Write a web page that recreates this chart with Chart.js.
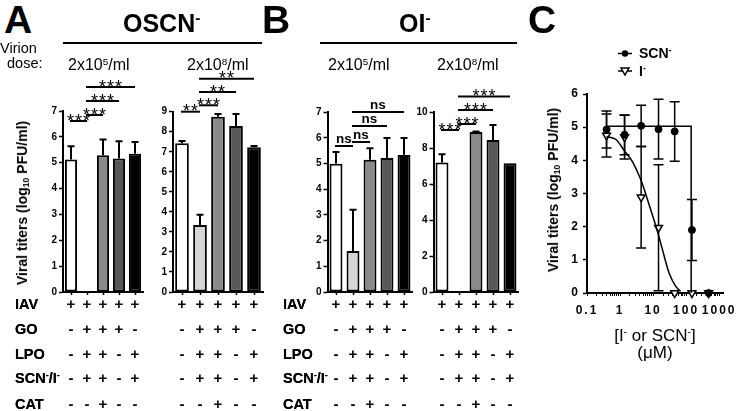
<!DOCTYPE html>
<html>
<head>
<meta charset="utf-8">
<script src="https://cdn.jsdelivr.net/npm/chart.js@4.4.1/dist/chart.umd.min.js"></script>
<style>
  body { margin: 0; background: #fff; font-family: "Liberation Sans", Arial, sans-serif; color: #000; }
  #fig { position: relative; width: 740px; height: 411px; overflow: hidden; }
  #fig canvas { position: absolute; }
  .t { position: absolute; white-space: nowrap; line-height: 1; }
  .rule { position: absolute; height: 2px; background: #000; }
  sup { font-size: 62%; vertical-align: baseline; position: relative; top: -0.55em; }
  sub { font-size: 62%; vertical-align: baseline; position: relative; top: 0.25em; }
</style>
</head>
<body>
<div id="fig"></div>
<script>
// ---- data ----
const conditions = ['IAV', 'IAV+GO+LPO+SCN/I', 'IAV+GO+LPO+SCN/I+CAT', 'IAV+GO', 'IAV+LPO+SCN/I'];
const rowLabels = ['IAV', 'GO', 'LPO', 'SCN<sup>-</sup>/I<sup>-</sup>', 'CAT'];
const treatRows = [
  ['+', '+', '+', '+', '+'],
  ['-', '+', '+', '+', '-'],
  ['-', '+', '+', '-', '+'],
  ['-', '+', '+', '-', '+'],
  ['-', '-', '+', '-', '-']
];

// A: OSCN-
const oscnLowMean = [5.12, null, 5.29, 5.16, 5.35];
const oscnLowErr = [0.52, 0, 0.61, 0.67, 0.45];
const oscnHighMean = [7.42, 3.35, 8.75, 8.29, 7.22];
const oscnHighErr = [0.12, 0.5, 0.13, 0.59, 0.07];
const oscnLowSig = [[0, 1, '***'], [1, 2, '***'], [1, 3, '***'], [1, 4, '***']];
const oscnHighSig = [[0, 1, '**'], [1, 2, '***'], [1, 3, '**'], [1, 4, '**']];

// B: OI-
const oiLowMean = [5.0, 1.6, 5.15, 5.22, 5.34];
const oiLowErr = [0.45, 1.6, 0.45, 0.78, 0.66];
const oiHighMean = [7.2, null, 8.9, 8.46, 7.17];
const oiHighErr = [0.47, 0, 0.03, 0.84, 0];
const oiLowSig = [[0, 1, 'ns'], [1, 2, 'ns'], [1, 3, 'ns'], [1, 4, 'ns']];
const oiHighSig = [[0, 1, '***'], [1, 2, '***'], [1, 3, '***'], [1, 4, '***']];

// C: dose response (uM)
const conc = [0.39, 1.37, 4.35, 14.6, 45, 150, 480];
const scnMean = [4.93, 4.77, 5.04, 4.94, 4.87, 1.9, 0];
const scnErr = [0.56, 0.6, 0.62, 0.9, 0.9, 0.92, 0];
const iMean = [4.75, 4.7, 2.89, 1.97, 0, 0, 0];
const iErr = [0.65, 0.66, 1.53, 1.9, 0, 0, 0];
const scnFitX = [0.39, 142, 142];
const scnFitY = [5.03, 5.03, 0];
const iFitX = [0.39, 0.77, 1.37, 2.44, 4.35, 7.7, 13.7, 19.3, 30.5, 48.5, 68];
const iFitY = [4.72, 4.62, 4.28, 3.94, 3.39, 2.64, 1.84, 1.3, 0.6, 0.2, 0.05];
const cMajor = [0.1, 1, 10, 100, 1000];
const cMajorLabels = ['0.1', '1', '10', '100', '1000'];

// ---- helpers ----
const FONT = '"Liberation Sans", Arial, sans-serif';
Chart.defaults.font.family = FONT;
Chart.defaults.color = '#000';
const barFill = ['#ffffff', '#d6d6d6', '#8a8a8a', '#575757', '#000000'];
const rowBase = [309, 334, 359, 383, 409];
const fig = document.getElementById('fig');

function txt(html, x, base, size, bold, align, spacing) {
  const d = document.createElement('div');
  d.className = 't';
  d.innerHTML = html;
  d.style.fontSize = size + 'px';
  d.style.fontWeight = bold ? 'bold' : 'normal';
  d.style.left = x + 'px';
  d.style.top = (base - 0.8465 * size) + 'px';
  if (spacing) d.style.letterSpacing = spacing + 'px';
  if (align === 'center') d.style.transform = 'translateX(-50%)';
  fig.appendChild(d);
}

function vtxt(html, cx, cy, size) {
  const d = document.createElement('div');
  d.className = 't';
  d.innerHTML = html;
  d.style.fontSize = size + 'px';
  d.style.fontWeight = 'bold';
  d.style.left = cx + 'px';
  d.style.top = cy + 'px';
  d.style.transform = 'translate(-50%,-50%) rotate(-90deg)';
  fig.appendChild(d);
}

function rule(x, y, w) {
  const d = document.createElement('div');
  d.className = 'rule';
  d.style.left = x + 'px';
  d.style.top = y + 'px';
  d.style.width = w + 'px';
  fig.appendChild(d);
}

function makeCanvas(box) {
  const c = document.createElement('canvas');
  c.width = box.w; c.height = box.h;
  c.style.left = box.l + 'px'; c.style.top = box.t + 'px';
  c.style.width = box.w + 'px'; c.style.height = box.h + 'px';
  fig.appendChild(c);
  return c;
}

// error bars (up only for bars, both ways for points)
const errPlugin = {
  id: 'errbars',
  beforeDatasetsDraw(chart) {
    const ctx = chart.ctx, ys = chart.scales.y;
    chart.data.datasets.forEach((ds, di) => {
      if (!ds.errs) return;
      const meta = chart.getDatasetMeta(di);
      meta.data.forEach((el, i) => {
        const e = ds.errs[i];
        const raw = ds.data[i];
        const v = raw && typeof raw === 'object' ? raw.y : raw;
        if (!e || v == null) return;
        const cap = ds.cap || 3.5;
        const yHi = ys.getPixelForValue(v + e);
        const yLo = ds.errBoth ? ys.getPixelForValue(Math.max(0, v - e)) : el.y;
        ctx.save();
        ctx.strokeStyle = '#000';
        ctx.lineWidth = ds.errWidth || 2;
        ctx.beginPath();
        ctx.moveTo(el.x, yLo); ctx.lineTo(el.x, yHi);
        ctx.moveTo(el.x - cap, yHi); ctx.lineTo(el.x + cap, yHi);
        if (ds.errBoth && v - e > 0) { ctx.moveTo(el.x - cap, yLo); ctx.lineTo(el.x + cap, yLo); }
        ctx.stroke();
        ctx.restore();
      });
    });
  }
};

// significance bracket lines
const sigPlugin = {
  id: 'sig',
  afterDraw(chart, args, o) {
    if (!o.pairs) return;
    const ctx = chart.ctx, xs = chart.scales.x;
    ctx.save();
    ctx.strokeStyle = '#000';
    ctx.lineWidth = 2;
    o.pairs.forEach((p, k) => {
      ctx.beginPath();
      ctx.moveTo(xs.getPixelForValue(p[0]) - 1, o.ys[k]);
      ctx.lineTo(xs.getPixelForValue(p[1]), o.ys[k]);
      ctx.stroke();
    });
    ctx.restore();
  }
};

function barChart(box, plot, means, errs, yMax, step, sig, sigY, rowX) {
  const cv = makeCanvas(box);
  const chart = new Chart(cv, {
    type: 'bar',
    data: {
      labels: conditions,
      datasets: [{
        data: means, errs: errs,
        backgroundColor: barFill, borderColor: '#000', borderWidth: 2, borderSkipped: false,
        barPercentage: 0.76, categoryPercentage: 1
      }]
    },
    options: {
      responsive: false, animation: false,
      layout: { padding: { top: plot.t - box.t, right: box.l + box.w - plot.r, left: 0, bottom: 0 } },
      plugins: {
        legend: { display: false }, tooltip: { enabled: false },
        sig: { pairs: sig, ys: sigY.map(y => y - box.t) }
      },
      scales: {
        x: {
          ticks: { display: false },
          grid: { drawOnChartArea: false, offset: false, tickLength: 3, tickWidth: 1.5, tickColor: '#000' },
          border: { color: '#000', width: 2 },
          afterFit: s => { s.height = box.t + box.h - plot.b; }
        },
        y: {
          min: 0, max: yMax,
          ticks: { stepSize: step, color: '#000', padding: 2, font: { size: 10, weight: 'bold' } },
          grid: { drawOnChartArea: false, tickLength: 4, tickWidth: 1.5, tickColor: '#000' },
          border: { color: '#000', width: 2 },
          afterFit: s => { s.width = plot.l - box.l; }
        }
      }
    },
    plugins: [errPlugin, sigPlugin]
  });

  const xs = chart.scales.x;
  sig.forEach((p, k) => {
    const cx = box.l + (xs.getPixelForValue(p[0]) - 1 + xs.getPixelForValue(p[1])) / 2;
    if (p[2].charAt(0) === '*') txt(p[2], cx + 0.5, sigY[k] + 6, 18, false, 'center', 1);
    else txt(p[2], cx, sigY[k] - 2.5, 13.5, true, 'center');
  });
  treatRows.forEach((row, r) => row.forEach((s, i) => {
    txt(s, box.l + xs.getPixelForValue(i), rowBase[r], 15, true, 'center');
  }));
  rowLabels.forEach((lab, r) => txt(lab, rowX, rowBase[r], 14.5, true));
  return chart;
}

// ---- panels A and B ----
barChart({ l: 30, t: 70, w: 120, h: 230 }, { l: 63, r: 143, t: 111, b: 292 },
  oscnLowMean, oscnLowErr, 7, 1, oscnLowSig, [121, 115, 101, 87], 15);
barChart({ l: 150, t: 70, w: 120, h: 230 }, { l: 173, r: 263, t: 111.7, b: 292 },
  oscnHighMean, oscnHighErr, 9, 1, oscnHighSig, [111.7, 105.3, 92, 78.7], 15);
barChart({ l: 300, t: 70, w: 120, h: 230 }, { l: 327.5, r: 412.5, t: 112.3, b: 292 },
  oiLowMean, oiLowErr, 7, 1, oiLowSig, [146, 142, 126, 112], 283);
barChart({ l: 415, t: 70, w: 110, h: 230 }, { l: 433.5, r: 518.5, t: 112.3, b: 292 },
  oiHighMean, oiHighErr, 10, 2, oiHighSig, [130, 124, 110, 96.5], 283);

// ---- panel C ----
const pts = (xs, ys) => xs.map((x, i) => ({ x: x, y: ys[i] }));
const cBox = { l: 560, t: 40, w: 180, h: 290 };
const cPlot = { l: 587, r: 725, t: 94, b: 293 };

const legendPlugin = {
  id: 'legendMarks',
  beforeDraw(chart) {
    chart.ctx.letterSpacing = '2px';
  },
  afterDraw(chart) {
    const ctx = chart.ctx;
    const x0 = 618 - cBox.l, x1 = 632 - cBox.l, xm = 625 - cBox.l;
    const y1 = 53.5 - cBox.t, y2 = 71 - cBox.t;
    ctx.save();
    ctx.strokeStyle = '#000'; ctx.lineWidth = 1.5;
    ctx.beginPath(); ctx.moveTo(x0, y1); ctx.lineTo(x1, y1); ctx.moveTo(x0, y2); ctx.lineTo(x1, y2); ctx.stroke();
    ctx.fillStyle = '#000';
    ctx.beginPath(); ctx.arc(xm, y1, 3.2, 0, Math.PI * 2); ctx.fill();
    ctx.fillStyle = '#fff';
    ctx.beginPath(); ctx.moveTo(xm - 4, y2 - 3); ctx.lineTo(xm + 4, y2 - 3); ctx.lineTo(xm, y2 + 4); ctx.closePath();
    ctx.fill(); ctx.stroke();
    ctx.restore();
  }
};

new Chart(makeCanvas(cBox), {
  type: 'scatter',
  data: {
    datasets: [
      { data: pts(scnFitX, scnFitY), showLine: true, borderColor: '#000', borderWidth: 1.5, pointRadius: 0, clip: false },
      { data: pts(iFitX, iFitY), showLine: true, borderColor: '#000', borderWidth: 1.5, pointRadius: 0,
        cubicInterpolationMode: 'monotone', clip: false },
      { data: pts(conc, scnMean), errs: scnErr, errBoth: true, cap: 5, errWidth: 1.5,
        pointStyle: 'circle', pointRadius: 3.5, backgroundColor: '#000', borderColor: '#000', clip: false },
      { data: pts(conc, iMean), errs: iErr, errBoth: true, cap: 5, errWidth: 1.5,
        pointStyle: 'triangle', pointRotation: 180, pointRadius: 4.5, backgroundColor: '#fff',
        borderColor: '#000', borderWidth: 1.5, clip: false }
    ]
  },
  options: {
    responsive: false, animation: false,
    layout: { padding: { top: cPlot.t - cBox.t, right: cBox.l + cBox.w - cPlot.r, left: 0, bottom: 0 } },
    plugins: { legend: { display: false }, tooltip: { enabled: false } },
    scales: {
      x: {
        type: 'logarithmic', min: 0.1, max: 1350,
        afterBuildTicks: s => {
          const t = [];
          cMajor.forEach(m => { for (let k = 1; k < 10; k++) { if (m * k <= s.max) t.push({ value: m * k }); } });
          s.ticks = t;
        },
        ticks: {
          autoSkip: false, maxRotation: 0, padding: 7, color: '#000', font: { size: 12, weight: 'bold' },
          callback: v => { const i = cMajor.indexOf(v); return i >= 0 ? cMajorLabels[i] : ''; }
        },
        grid: { drawOnChartArea: false, tickLength: 3, tickWidth: 1, tickColor: '#000' },
        border: { color: '#000', width: 2 },
        afterFit: s => { s.height = cBox.t + cBox.h - cPlot.b; }
      },
      y: {
        min: 0, max: 6,
        ticks: { stepSize: 1, padding: 3, color: '#000', font: { size: 12, weight: 'bold' } },
        grid: { drawOnChartArea: false, tickLength: 4, tickWidth: 1.5, tickColor: '#000' },
        border: { color: '#000', width: 2 },
        afterFit: s => { s.width = cPlot.l - cBox.l; }
      }
    }
  },
  plugins: [errPlugin, legendPlugin]
});

// ---- titles and labels ----
txt('A', 4, 33, 39, true);
txt('OSCN<sup>-</sup>', 123, 32, 25, true);
txt('Virion', 0, 53, 14.5, false);
txt('dose:', 7, 68, 14.5, false);
rule(63, 42, 199);
txt('2x10<sup>5</sup>/ml', 68, 71, 16, false);
txt('2x10<sup>8</sup>/ml', 187, 71, 16, false);
vtxt('Viral titers (log<sub>10</sub> PFU/ml)', 22, 203, 14);

txt('B', 262, 33, 39, true);
txt('OI<sup>-</sup>', 399, 32, 25, true);
rule(320, 42, 197);
txt('2x10<sup>5</sup>/ml', 328, 71, 16, false);
txt('2x10<sup>8</sup>/ml', 437, 71, 16, false);

txt('C', 528, 33, 39, true);
txt('SCN<sup>-</sup>', 639, 58, 14, true);
txt('I<sup>-</sup>', 639, 76, 14, true);
vtxt('Viral titers (log<sub>10</sub> PFU/ml)', 553, 190, 14);
txt('[I<sup>-</sup> or SCN<sup>-</sup>]', 655, 341, 17, false, 'center');
txt('(μM)', 655, 358, 17, false, 'center');
</script>
</body>
</html>
